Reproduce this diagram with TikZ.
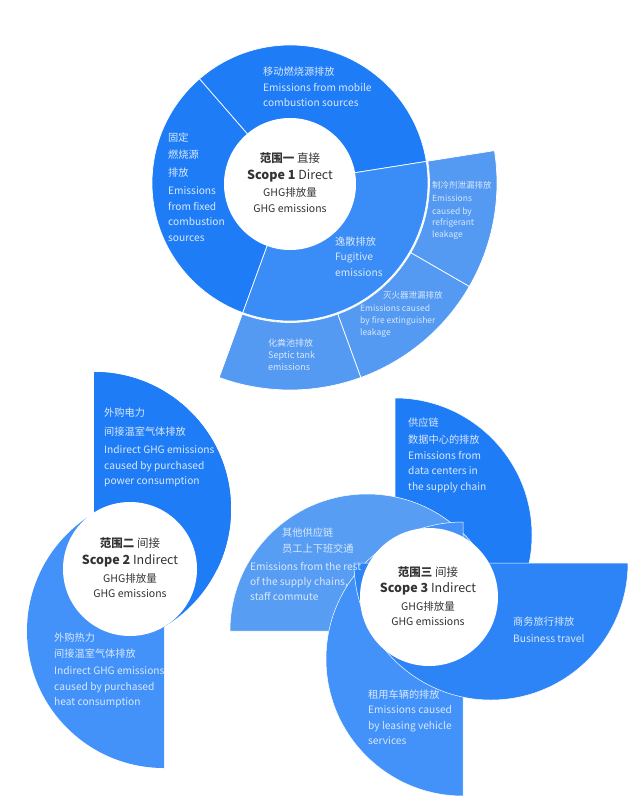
\documentclass[tikz,border=0pt]{standalone}
\usepackage{fontspec}
\setmainfont{Noto Sans CJK SC}
\definecolor{dk}{RGB}{30,124,246}
\definecolor{md}{RGB}{58,141,246}
\definecolor{lt}{RGB}{66,146,250}
\definecolor{dt}{RGB}{84,154,242}
\definecolor{dd}{RGB}{44,132,246}
\definecolor{dl}{RGB}{88,157,244}
\definecolor{btc}{RGB}{218,232,252}
\definecolor{ctc}{RGB}{51,51,51}
\begin{document}
\begin{tikzpicture}[x=1pt,y=1pt,
  sec/.style={draw=white,line width=0.7pt},
  blade/.style={draw=white,line width=0.5pt},
  bt/.style={text=btc,font=\fontsize{10.2}{12}\selectfont,inner sep=0pt,anchor=base west},
  st/.style={text=btc,font=\fontsize{8.5}{10}\selectfont,inner sep=0pt,anchor=base west},
  mt/.style={text=btc,font=\fontsize{9}{11}\selectfont,inner sep=0pt,anchor=base west},
  ca/.style={text=ctc,font=\fontsize{11.5}{13}\selectfont,inner sep=0pt,anchor=base},
  cb/.style={text=ctc,font=\fontsize{12.5}{14}\selectfont,inner sep=0pt,anchor=base},
  cc/.style={text=ctc,font=\fontsize{10.5}{12}\selectfont,inner sep=0pt,anchor=base}]
\useasboundingbox (0,0) rectangle (629,-809);
\fill[white] (0,0) rectangle (629,-809);

% ---------------- Scope 1 ----------------
\begin{scope}[shift={(290,-183)}]
\path[fill=dk,sec] (0,0) -- (9:138) arc[start angle=9,end angle=131,radius=138] -- cycle;
\path[fill=dk,sec] (0,0) -- (131:138) arc[start angle=131,end angle=250,radius=138] -- cycle;
\path[fill=md,sec] (0,0) -- (-110:138) arc[start angle=-110,end angle=9,radius=138] -- cycle;
\path[fill=dt,sec] (9:139.5) arc[start angle=9,end angle=-30,radius=139.5] -- (-30:207) arc[start angle=-30,end angle=9,radius=207] -- cycle;
\path[fill=dt,sec] (-30:139.5) arc[start angle=-30,end angle=-70,radius=139.5] -- (-70:207) arc[start angle=-70,end angle=-30,radius=207] -- cycle;
\path[fill=dt,sec] (-70:139.5) arc[start angle=-70,end angle=-110,radius=139.5] -- (-110:207) arc[start angle=-110,end angle=-70,radius=207] -- cycle;
\fill[white] (0,-1) circle[radius=66];
\end{scope}

% ---------------- Scope 2 ----------------
\fill[dk] (94,-372) arc[start angle=90,end angle=-90,radius=137] -- cycle;
\fill[lt] (164,-768) arc[start angle=-90,end angle=-270,radius=137] -- cycle;
\begin{scope}
\clip (0,-569) rectangle (629,-300);
\fill[dk] (94,-372) arc[start angle=90,end angle=-90,radius=137] -- cycle;
\end{scope}
\fill[white] (130,-569) circle[radius=67];

% ---------------- Scope 3 ----------------
\path[fill=dk,blade] (395,-398) arc[start angle=90,end angle=-90,radius=137] -- cycle;
\path[fill=dl,blade] (230,-631) arc[start angle=180,end angle=0,radius=137] -- cycle;
\path[fill=lt,blade] (463,-796) arc[start angle=-90,end angle=-270,radius=137] -- cycle;
\path[fill=dd,blade] (628,-563) arc[start angle=0,end angle=-180,radius=137] -- cycle;
\fill[white] (429,-597) circle[radius=69];

% ---------------- blade texts ----------------
\foreach \t/\y [count=\i] in {移动燃烧源排放/72,Emissions from mobile/87.5,combustion sources/103}
  \node[bt] (mob\i) at (263,-\y-3.5) {\t};
\foreach \t/\y [count=\i] in {固定/138,燃烧源/155,排放/173,Emissions/191,from fixed/207,combustion/222,sources/238}
  \node[bt] (fix\i) at (168,-\y-3.5) {\t};
\foreach \t/\y [count=\i] in {制冷剂泄漏排放/185,Emissions/198,caused by/211,refrigerant/222,leakage/234}
  \node[st] (ref\i) at (432,-\y-3) {\t};
\foreach \t/\y [count=\i] in {逸散排放/242,Fugitive/257,emissions/273}
  \node[bt] (fug\i) at (335,-\y-3.5) {\t};
\node[st] (fir1) at (383,-298) {灭火器泄漏排放};
\foreach \t/\y [count=\i] in {Emissions caused/308,by fire extinguisher/320,leakage/332}
  \node[st] (fire\i) at (360,-\y-3) {\t};
\foreach \t/\y [count=\i] in {化粪池排放/343,Septic tank/355,emissions/367}
  \node[mt] (sep\i) at (268,-\y-3.2) {\t};

\foreach \t/\y [count=\i] in {外购电力/413,间接温室气体排放/432,Indirect GHG emissions/450,caused by purchased/466,power consumption/481}
  \node[bt] (pow\i) at (104,-\y-3.5) {\t};
\foreach \t/\y [count=\i] in {外购热力/638,间接温室气体排放/654,Indirect GHG emissions/671,caused by purchased/687,heat consumption/702}
  \node[bt] (hea\i) at (54,-\y-3.5) {\t};

\foreach \t/\y [count=\i] in {供应链/423,数据中心的排放/440,Emissions from/456,data centers in/471,the supply chain/487}
  \node[bt] (dat\i) at (408,-\y-3.5) {\t};
\node[bt] (oth1) at (282,-536.5) {其他供应链};
\node[bt] (oth2) at (282,-552.5) {员工上下班交通};
\foreach \t/\y [count=\i] in {Emissions from the rest/567,{of the supply chains,}/582,staff commute/597}
  \node[bt] (res\i) at (250,-\y-3.5) {\t};
\node[bt] (bus1) at (513,-625.5) {商务旅行排放};
\node[bt] (bus2) at (513,-642.5) {Business travel};
\foreach \t/\y [count=\i] in {租用车辆的排放/695,Emissions caused/710,by leasing vehicle/726,services/741}
  \node[bt] (lea\i) at (368,-\y-3.5) {\t};

% ---------------- centre texts ----------------
\node[ca] (s1a) at (290,-162.5) {\textbf{范围一} 直接};
\node[cb] (s1b) at (290,-179.5) {\textbf{Scope 1} Direct};
\node[cc] (s1c) at (290,-196.8) {GHG排放量};
\node[cc] (s1d) at (290,-212.8) {GHG emissions};

\node[ca] (s2a) at (130,-547.5) {\textbf{范围二} 间接};
\node[cb] (s2b) at (130,-564.5) {\textbf{Scope 2} Indirect};
\node[cc] (s2c) at (130,-582.8) {GHG排放量};
\node[cc] (s2d) at (130,-597.8) {GHG emissions};

\node[ca] (s3a) at (428,-576.5) {\textbf{范围三} 间接};
\node[cb] (s3b) at (428,-592.5) {\textbf{Scope 3} Indirect};
\node[cc] (s3c) at (428,-610.8) {GHG排放量};
\node[cc] (s3d) at (428,-625.8) {GHG emissions};
\end{tikzpicture}
\end{document}
